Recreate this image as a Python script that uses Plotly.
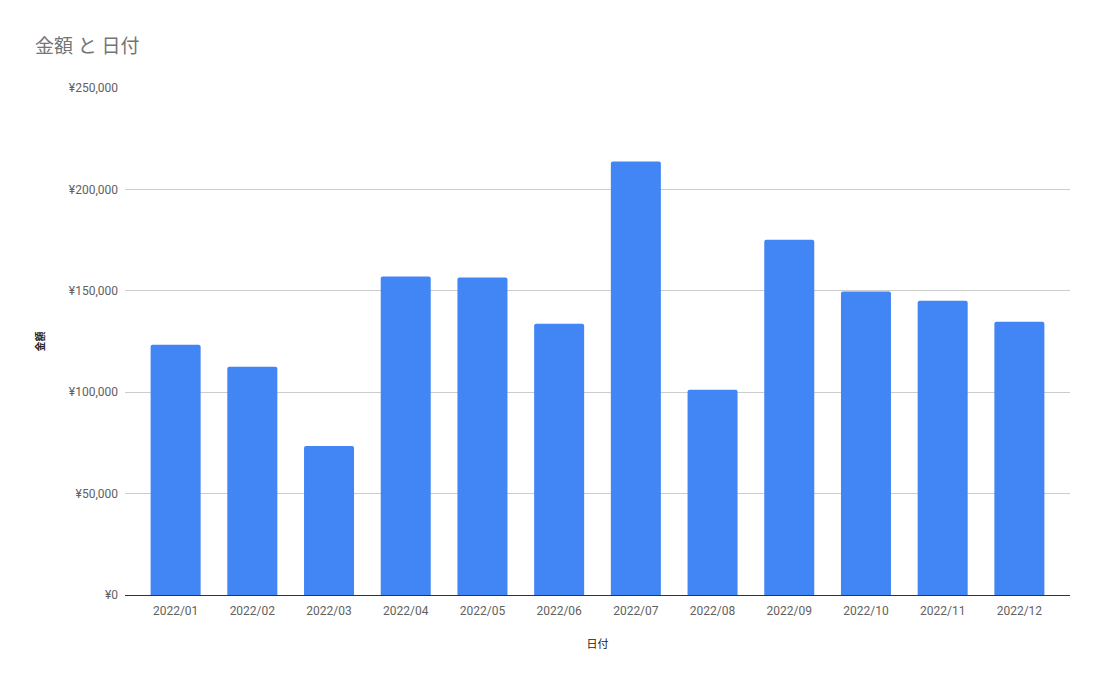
import plotly.graph_objects as go

months = ["2022/01", "2022/02", "2022/03", "2022/04", "2022/05", "2022/06",
          "2022/07", "2022/08", "2022/09", "2022/10", "2022/11", "2022/12"]
amounts = [123400, 112500, 73500, 157000, 156500, 133800,
           213700, 101200, 175200, 149600, 145100, 134700]
y_ticks = [0, 50000, 100000, 150000, 200000, 250000]
y_labels = ["¥0", "¥50,000", "¥100,000", "¥150,000", "¥200,000", "¥250,000"]

fig = go.Figure()
fig.add_trace(go.Bar(x=months, y=amounts, marker=dict(color="#4285F4", line=dict(width=0)),
                     hoverinfo="x+y"))

# page body has an 8px margin, so the figure is 8px smaller and offsets account for it
fig.update_layout(
    width=1097, height=676,
    margin=dict(l=117, r=35, t=80, b=89),
    paper_bgcolor="white", plot_bgcolor="white",
    font=dict(family="Roboto, sans-serif", color="#616161", size=12),
    title=dict(text="金額 と 日付", x=27/1097, xanchor="left", y=1-38/676, yanchor="middle",
               font=dict(family="Roboto, Noto Sans CJK JP, sans-serif", size=19, color="#757575")),
    bargap=0.348,
    barcornerradius=2,
    showlegend=False,
)
fig.update_xaxes(
    range=[-0.66, 11.66],
    showgrid=False, showline=True, linecolor="#333333", linewidth=1,
    ticks="", ticklabelstandoff=5, tickfont=dict(size=12, color="#616161"),
    title=dict(text="日付", font=dict(size=11, color="#222222", family="Noto Sans CJK JP, sans-serif"), standoff=22),
)
fig.update_yaxes(
    range=[0, 250000], tickvals=y_ticks, ticktext=y_labels,
    showgrid=True, gridcolor="#CCCCCC", gridwidth=1,
    zeroline=True, zerolinecolor="#333333", zerolinewidth=1,
    showline=False, ticks="", ticklabelstandoff=6, tickfont=dict(size=12, color="#616161"),
    title=dict(text="<b>金額</b>", font=dict(size=10, color="#222222", family="Noto Sans CJK JP, sans-serif"), standoff=22),
)

fig.write_html("out.html")
